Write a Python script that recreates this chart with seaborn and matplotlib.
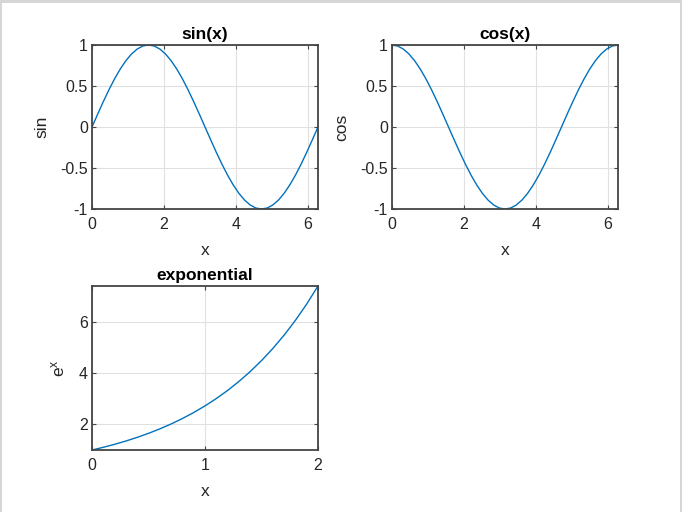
import matplotlib
matplotlib.use("Agg")
import matplotlib.pyplot as plt
import seaborn as sns
from matplotlib.patches import Rectangle

# ---- data ----
trig_x = [0, 0.157, 0.314, 0.471, 0.628, 0.785, 0.942, 1.100, 1.257, 1.414,
          1.571, 1.728, 1.885, 2.042, 2.199, 2.356, 2.513, 2.670, 2.827, 2.985,
          3.142, 3.299, 3.456, 3.613, 3.770, 3.927, 4.084, 4.241, 4.398, 4.555,
          4.712, 4.869, 5.027, 5.184, 5.341, 5.498, 5.655, 5.812, 5.969, 6.126,
          6.283]
sin_y = [0, 0.156, 0.309, 0.454, 0.588, 0.707, 0.809, 0.891, 0.951, 0.988,
         1.0, 0.988, 0.951, 0.891, 0.809, 0.707, 0.588, 0.454, 0.309, 0.156,
         0, -0.156, -0.309, -0.454, -0.588, -0.707, -0.809, -0.891, -0.951, -0.988,
         -1.0, -0.988, -0.951, -0.891, -0.809, -0.707, -0.588, -0.454, -0.309, -0.156,
         0]
cos_y = [1.0, 0.988, 0.951, 0.891, 0.809, 0.707, 0.588, 0.454, 0.309, 0.156,
         0, -0.156, -0.309, -0.454, -0.588, -0.707, -0.809, -0.891, -0.951, -0.988,
         -1.0, -0.988, -0.951, -0.891, -0.809, -0.707, -0.588, -0.454, -0.309, -0.156,
         0, 0.156, 0.309, 0.454, 0.588, 0.707, 0.809, 0.891, 0.951, 0.988,
         1.0]
exp_x = [0, 0.1, 0.2, 0.3, 0.4, 0.5, 0.6, 0.7, 0.8, 0.9, 1.0,
         1.1, 1.2, 1.3, 1.4, 1.5, 1.6, 1.7, 1.8, 1.9, 2.0]
exp_y = [1.000, 1.105, 1.221, 1.350, 1.492, 1.649, 1.822, 2.014, 2.226, 2.460, 2.718,
         3.004, 3.320, 3.669, 4.055, 4.482, 4.953, 5.474, 6.050, 6.686, 7.389]

titles = ["sin(x)", "cos(x)", "exponential"]
ylabels = ["sin", "cos", "$\\mathregular{e^x}$"]
trig_xticks = [0, 2, 4, 6]
trig_yticks = [-1, -0.5, 0, 0.5, 1]
trig_yticklabels = ["-1", "-0.5", "0", "0.5", "1"]
exp_xticks = [0, 1, 2]
exp_yticks = [2, 4, 6]

sns.set_style("white")
plt.rcParams['font.family'] = ['Liberation Sans', 'DejaVu Sans']
plt.rcParams['axes.unicode_minus'] = False

line_color = "#0072BD"
txt = "#262626"

fig = plt.figure(figsize=(6.82, 5.12), dpi=100)
fig.patch.set_facecolor("white")

W, H = 682, 512
def pos(l, t, r, b):
    return [l / W, 1 - b / H, (r - l) / W, (b - t) / H]

ax1 = fig.add_axes(pos(92, 45, 318, 209))
ax2 = fig.add_axes(pos(392, 45, 618, 209))
ax3 = fig.add_axes(pos(92, 286, 318, 450))

def style(ax, title, ylabel):
    ax.set_title(title, fontsize=12.5, fontweight="bold", color="black", pad=4)
    ax.set_xlabel("x", fontsize=12.5, color=txt, labelpad=8)
    ax.set_ylabel(ylabel, fontsize=12.5, color=txt, labelpad=8)
    ax.grid(True, color="#e1e1e1", linewidth=0.8)
    ax.set_axisbelow(True)
    for s in ax.spines.values():
        s.set_visible(True)
        s.set_color("#444444")
        s.set_linewidth(1.3)
    ax.tick_params(direction="in", length=3, width=0.8, colors="#444444",
                   labelcolor=txt, labelsize=11.5, top=True, right=True,
                   bottom=True, left=True, pad=3)
    ax.tick_params(axis="x", pad=5.5)

sns.lineplot(x=trig_x, y=sin_y, ax=ax1, color=line_color, linewidth=1.0)
ax1.set_xlim(0, 6.283)
ax1.set_ylim(-1, 1)
ax1.set_xticks(trig_xticks)
ax1.set_yticks(trig_yticks)
ax1.set_yticklabels(trig_yticklabels)
style(ax1, titles[0], ylabels[0])

sns.lineplot(x=trig_x, y=cos_y, ax=ax2, color=line_color, linewidth=1.0)
ax2.set_xlim(0, 6.283)
ax2.set_ylim(-1, 1)
ax2.set_xticks(trig_xticks)
ax2.set_yticks(trig_yticks)
ax2.set_yticklabels(trig_yticklabels)
style(ax2, titles[1], ylabels[1])

sns.lineplot(x=exp_x, y=exp_y, ax=ax3, color=line_color, linewidth=1.0)
ax3.set_xlim(0, 2)
ax3.set_ylim(1, 7.389)
ax3.set_xticks(exp_xticks)
ax3.set_yticks(exp_yticks)
style(ax3, titles[2], ylabels[2])

# window frame
border = "#d6d6d6"
fig.add_artist(Rectangle((0, 1 - 3 / H), 1, 3 / H, transform=fig.transFigure,
                         facecolor=border, edgecolor="none"))
fig.add_artist(Rectangle((0, 0), 2 / W, 1, transform=fig.transFigure,
                         facecolor=border, edgecolor="none"))
fig.add_artist(Rectangle((1 - 2 / W, 0), 2 / W, 1, transform=fig.transFigure,
                         facecolor=border, edgecolor="none"))

fig.savefig("out.png", dpi=100)
